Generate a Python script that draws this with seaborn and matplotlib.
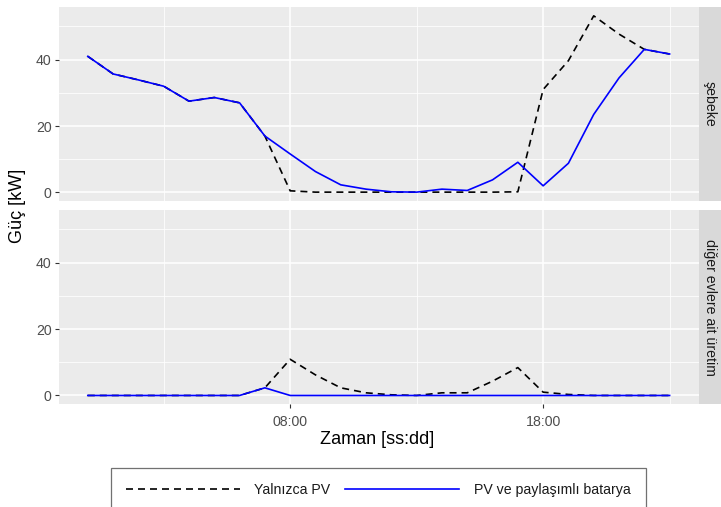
import numpy as np
import pandas as pd
import seaborn as sns
import matplotlib.pyplot as plt

# --- data, one value per hour 00:00 .. 23:00 ---
hours = list(range(24))
panels = ["şebeke", "diğer evlere ait üretim"]
series = ["Yalnızca PV", "PV ve paylaşımlı batarya"]

grid_pv = [41.0, 35.7, 33.9, 32.0, 27.5, 28.6, 27.0, 17.0, 0.5, 0.1, 0.1, 0.1,
           0.1, 0.1, 0.1, 0.1, 0.1, 0.2, 31.0, 39.7, 53.2, 47.7, 43.1, 41.7]
grid_bat = [41.0, 35.7, 33.9, 32.0, 27.5, 28.6, 27.0, 17.0, 11.6, 6.3, 2.3, 1.0,
            0.2, 0.1, 1.0, 0.6, 3.8, 9.1, 2.0, 8.8, 23.5, 34.5, 43.1, 41.7]
other_pv = [0, 0, 0, 0, 0, 0, 0, 2.3, 10.9, 6.2, 2.3, 0.8,
            0.2, 0.0, 0.8, 0.8, 4.3, 8.4, 1.0, 0.3, 0, 0, 0, 0]
other_bat = [0, 0, 0, 0, 0, 0, 0, 2.3, 0, 0, 0, 0,
             0, 0, 0, 0, 0, 0, 0, 0, 0, 0, 0, 0]

x_ticks = [8, 18]
x_ticklabels = ["08:00", "18:00"]
x_minor = [3, 13, 23]
y_ticks = [0, 20, 40]
y_minor = [10, 30, 50]

# long table for seaborn
frames = []
for panel, pv, bat in [(panels[0], grid_pv, grid_bat), (panels[1], other_pv, other_bat)]:
    frames.append(pd.DataFrame({"saat": hours, "guc": pv, "seri": series[0], "panel": panel}))
    frames.append(pd.DataFrame({"saat": hours, "guc": bat, "seri": series[1], "panel": panel}))
df = pd.concat(frames, ignore_index=True)

plt.rcParams['font.family'] = ['Liberation Sans', 'DejaVu Sans']

W, H = 721, 507
fig = plt.figure(figsize=(W / 100, H / 100), dpi=100)

def fx(px):
    return px / W

def fy(px):
    return 1 - px / H

left, right = 58.7, 698.7
panel_rows = [(7, 201.3), (210, 404.3)]
strip_w = 22.3
small = 10.2

palette = {series[0]: "black", series[1]: "#0000FF"}
dashes = {series[0]: (4.2, 3.0), series[1]: ""}

ymax = 53.2
ylim = (-0.05 * ymax, 1.05 * ymax)
xlim = (-0.05 * 23, 23 * 1.05)

axes = []
for i, (top, bottom) in enumerate(panel_rows):
    ax = fig.add_axes([fx(left), fy(bottom), fx(right - left), (bottom - top) / H])
    ax.set_facecolor("#EBEBEB")
    for s in ax.spines.values():
        s.set_visible(False)
    for v in x_ticks:
        ax.axvline(v, color="white", lw=1.1, zorder=0.5)
    for v in x_minor:
        ax.axvline(v, color="white", lw=0.55, zorder=0.4)
    for v in y_ticks:
        ax.axhline(v, color="white", lw=1.1, zorder=0.5)
    for v in y_minor:
        ax.axhline(v, color="white", lw=0.55, zorder=0.4)

    sub = df[df["panel"] == panels[i]]
    sns.lineplot(data=sub, x="saat", y="guc", hue="seri", style="seri",
                 hue_order=series, style_order=series, palette=palette,
                 dashes=dashes, linewidth=1.2, legend=False, ax=ax, zorder=2)

    ax.set_xlim(*xlim)
    ax.set_ylim(*ylim)
    ax.set_xticks(x_ticks)
    ax.set_yticks(y_ticks)
    ax.set_xlabel("")
    ax.set_ylabel("")
    ax.tick_params(axis="both", length=2.9, width=0.8, color="#333333",
                   labelcolor="#4D4D4D", labelsize=small, pad=2.2)
    if i == 0:
        ax.tick_params(axis="x", bottom=False, labelbottom=False)
    else:
        ax.set_xticklabels(x_ticklabels)
        ax.tick_params(axis="x", pad=4.5)

    # facet strip on the right
    sax = fig.add_axes([fx(right), fy(bottom), fx(strip_w), (bottom - top) / H])
    sax.set_facecolor("#D9D9D9")
    sax.set_xticks([])
    sax.set_yticks([])
    for s in sax.spines.values():
        s.set_visible(False)
    sax.text(0.5, 0.5, panels[i], rotation=-90, ha="center", va="center",
             fontsize=small, color="#1A1A1A", transform=sax.transAxes)
    axes.append(ax)

fig.text(fx(377), fy(440), "Zaman [ss:dd]", ha="center", va="center", fontsize=13)
fig.text(fx(17), fy(205.5), "Güç [kW]", ha="center", va="center", rotation=90, fontsize=13)

leg = fig.legend(handles=list(axes[0].lines[-2:]), labels=series, loc="upper center",
                 bbox_to_anchor=(fx(378.3), fy(467.5)), ncol=2, fontsize=small,
                 handlelength=8.0, handletextpad=1.05, columnspacing=1.05,
                 borderpad=1.1, borderaxespad=0, frameon=True, fancybox=False)
leg.get_frame().set_edgecolor("#4D4D4D")
leg.get_frame().set_linewidth(0.9)
for t in leg.get_texts():
    t.set_color("#1A1A1A")

fig.savefig("out.png", dpi=100)
